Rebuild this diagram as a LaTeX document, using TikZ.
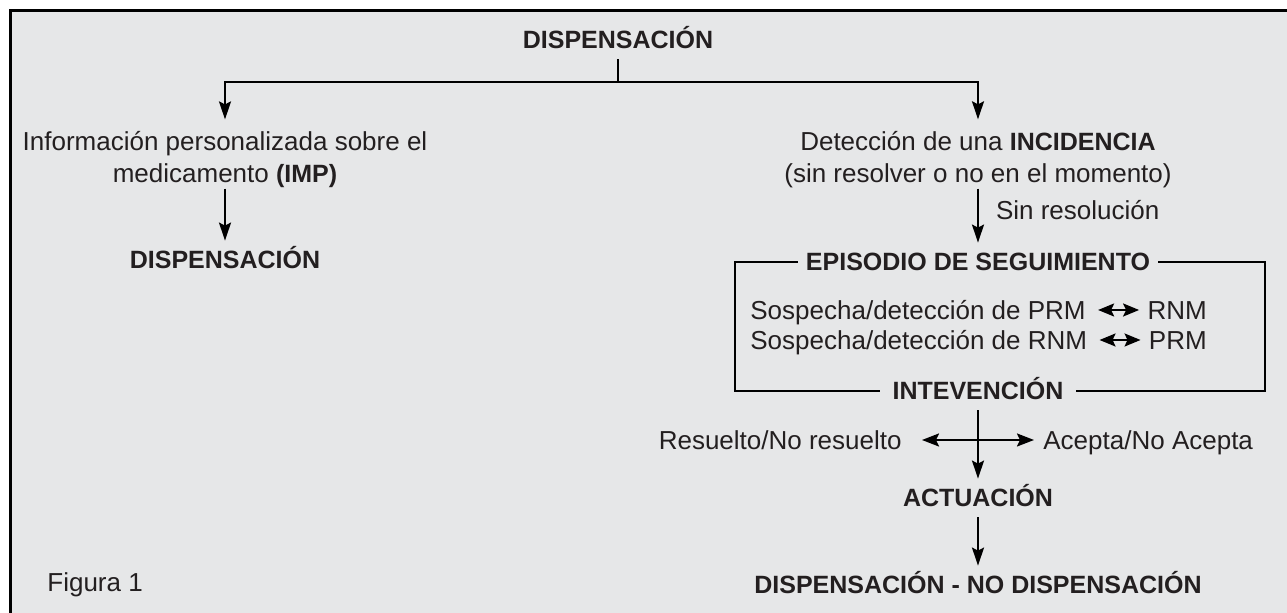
\documentclass[tikz,border=0pt]{standalone}
\usepackage{fontspec}
\setmainfont{Liberation Sans}
\usetikzlibrary{arrows.meta,positioning}
\definecolor{panelGray}{RGB}{230,231,232}
\definecolor{inkGray}{RGB}{35,31,32}
\newcommand{\boldpart}[1]{{\fontsize{12.5}{16}\selectfont\bfseries #1}}

\begin{document}
\begin{tikzpicture}
[x=0.5pt,y=-0.5pt,
  titleDecorate/.style={font=\fontsize{12.5}{16}\selectfont\bfseries,text=inkGray,
    text height=9pt,text depth=0pt,inner xsep=4pt,inner ysep=5pt},
  textDecorate/.style={font=\fontsize{13}{16}\selectfont,text=inkGray,
    text height=9.3pt,text depth=0pt,inner sep=0pt},
  blockDecorate/.style={font=\fontsize{13}{16}\selectfont,text=inkGray,
    align=center,inner sep=0pt},
  lineDecorate/.style={-,line width=1pt},
  arrowDecorate/.style={-{Stealth[length=9pt,width=6pt,inset=1.5pt]},line width=1pt},
  swapDecorate/.style={{Stealth[length=8pt,width=6.5pt,inset=1.5pt]}-{Stealth[length=8pt,width=6.5pt,inset=1.5pt]},line width=1pt},
  crossDecorate/.style={{Stealth[length=8.5pt,width=6.5pt,inset=1.5pt]}-{Stealth[length=8.5pt,width=6.5pt,inset=1.5pt]},line width=1pt}]
%% panel
\useasboundingbox (0,0) rectangle (1287,613);
\fill[panelGray] (10.5,10.5) rectangle (1287,613);
\draw[line width=1.5pt] (10.5,613) -- (10.5,10.5) -- (1287,10.5);
%% nodes
\node[titleDecorate] (top) at (618,40) {DISPENSACIÓN};
\coordinate (fork) at (618,82);
\node[blockDecorate] (info) at (225,160)
  {Información personalizada sobre el\\medicamento \boldpart{(IMP)}};
\node[titleDecorate] (leftDisp) at (225,260) {DISPENSACIÓN};
\node[blockDecorate] (incid) at (978,160)
  {Detección de una \boldpart{INCIDENCIA}\\(sin resolver o no en el momento)};
\node[titleDecorate] (episode) at (978,262) {EPISODIO DE SEGUIMIENTO};
\node[titleDecorate,inner xsep=6pt] (interv) at (978,391) {INTEVENCIÓN};
\node[titleDecorate] (action) at (978,498) {ACTUACIÓN};
\node[titleDecorate] (final) at (978,585) {DISPENSACIÓN - NO DISPENSACIÓN};
\node[textDecorate,anchor=east] (solved) at (902,440) {Resuelto/No resuelto};
\node[textDecorate,anchor=west] (accept) at (1043,440) {Acepta/No Acepta};
\node[textDecorate,anchor=west] (figure) at (47,582) {Figura 1};
\coordinate (boxLeft) at (735,326);
\coordinate (boxRight) at (1265,326);
%% suspicion rows
\foreach \row/\y/\first/\second in {1/310/PRM/RNM,2/340/RNM/PRM}
{
  \node[textDecorate,anchor=west] (suspect\row) at (750,\y) {Sospecha/detección de \first};
  \node[textDecorate,right=30.5pt of suspect\row] (result\row) {\second};
  \draw[swapDecorate,shorten <=6pt,shorten >=4pt] (suspect\row) -- (result\row);
}
%% connectors
\draw[lineDecorate] (top) -- (fork);
\draw[arrowDecorate,shorten >=6pt] (fork) -| (info);
\draw[arrowDecorate,shorten >=6pt] (fork) -| (incid);
\draw[arrowDecorate] (info) -- (leftDisp);
\draw[arrowDecorate] (incid) -- node[textDecorate,pos=0.4,right=8.5pt] {Sin resolución} (episode);
\draw[lineDecorate] (episode.west) -| (boxLeft) |- (interv.west);
\draw[lineDecorate] (episode.east) -| (boxRight) |- (interv.east);
\draw[crossDecorate,shorten <=10pt,shorten >=4.5pt] (solved) -- (accept);
\draw[arrowDecorate] (interv) -- (action);
\draw[arrowDecorate] (action) -- (final);
\end{tikzpicture}
\end{document}
